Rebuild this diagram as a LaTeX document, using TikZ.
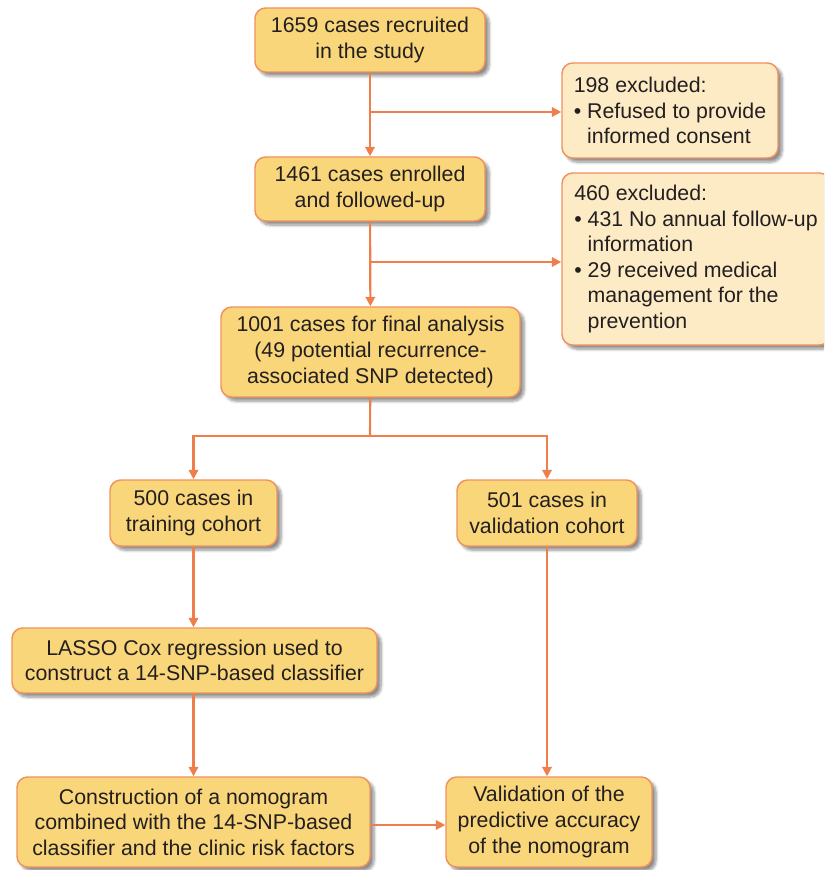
\documentclass[tikz,border=0pt]{standalone}
\usepackage{fontspec}
\setmainfont{Liberation Sans}
\usetikzlibrary{arrows.meta,shadows.blur}
\definecolor{boxfill}{HTML}{F9D67A}
\definecolor{exfill}{HTML}{FDEBC6}
\definecolor{edge}{HTML}{F0915E}
\definecolor{arrowc}{HTML}{EE7F4B}
\definecolor{txt}{HTML}{231F20}
\tikzset{
  base/.style={draw=edge, line width=1.1pt, rounded corners=8pt, inner sep=0pt,
    text=txt, font=\fontsize{16}{19.2}\selectfont,
    blur shadow={shadow xshift=3pt, shadow yshift=-3pt, shadow blur steps=6, shadow opacity=45}},
  mainbox/.style={base, fill=boxfill, align=center},
  exbox/.style={base, fill=exfill, align=left},
  arr/.style={draw=arrowc, line width=1.6pt, -{Triangle[length=7pt,width=7pt]}},
  ln/.style={draw=arrowc, line width=1.6pt},
}
\begin{document}
\begin{tikzpicture}[x=0.75pt,y=-0.75pt]
\path[use as bounding box, clip] (0,0) rectangle (824,870);
\node[mainbox, minimum width=172.5pt, minimum height=48pt] (A) at (370,40) {1659 cases recruited\\in the study};
\node[exbox, minimum width=162pt, minimum height=71.25pt] (X1) at (670,110.5)
  {198 excluded:\\\textbullet\ Refused to provide\\\hphantom{\textbullet\ }informed consent};
\node[mainbox, minimum width=172.5pt, minimum height=48pt] (B) at (370,189) {1461 cases enrolled\\and followed-up};
\node[exbox, minimum width=201pt, minimum height=129pt] (X2) at (696,259)
  {460 excluded:\\\textbullet\ 431 No annual follow-up\\\hphantom{\textbullet\ }information\\\textbullet\ 29 received medical\\\hphantom{\textbullet\ }management for the\\\hphantom{\textbullet\ }prevention};
\node[mainbox, minimum width=224.25pt, minimum height=67.5pt] (C) at (370.5,352) {1001 cases for final analysis\\(49 potential recurrence-\\associated SNP detected)};
\node[mainbox, minimum width=125.25pt, minimum height=49.5pt] (D) at (193.5,513) {500 cases in\\training cohort};
\node[mainbox, minimum width=135pt, minimum height=49.5pt] (E) at (547,513) {501 cases in\\validation cohort};
\node[mainbox, minimum width=273.75pt, minimum height=48.75pt] (F) at (194.5,660.5) {LASSO Cox regression used to\\construct a 14-SNP-based classifier};
\node[mainbox, minimum width=264.75pt, minimum height=67.5pt] (G) at (193.5,822) {Construction of a nomogram\\combined with the 14-SNP-based\\classifier and the clinic risk factors};
\node[mainbox, minimum width=154.5pt, minimum height=67.5pt] (H) at (549,822) {Validation of the\\predictive accuracy\\of the nomogram};
\coordinate (j1) at (370,112);
\coordinate (j2) at (370,262);
\coordinate (j3) at (370,436);
\draw[arr] (A) -- (B);
\draw[arr] (j1) -- (X1.west |- j1);
\draw[arr] (B) -- (C);
\draw[arr] (j2) -- (X2.west |- j2);
\draw[ln] (C) -- (j3);
\draw[arr] (j3) -| (D);
\draw[arr] (j3) -| (E);
\draw[arr] (D) -- (D |- F.north);
\draw[arr] (D |- F.south) -- (D |- G.north);
\draw[arr] (E) -- (E |- H.north);
\draw[arr] (G.east |- 0,825) -- (H.west |- 0,825);
\end{tikzpicture}
\end{document}
